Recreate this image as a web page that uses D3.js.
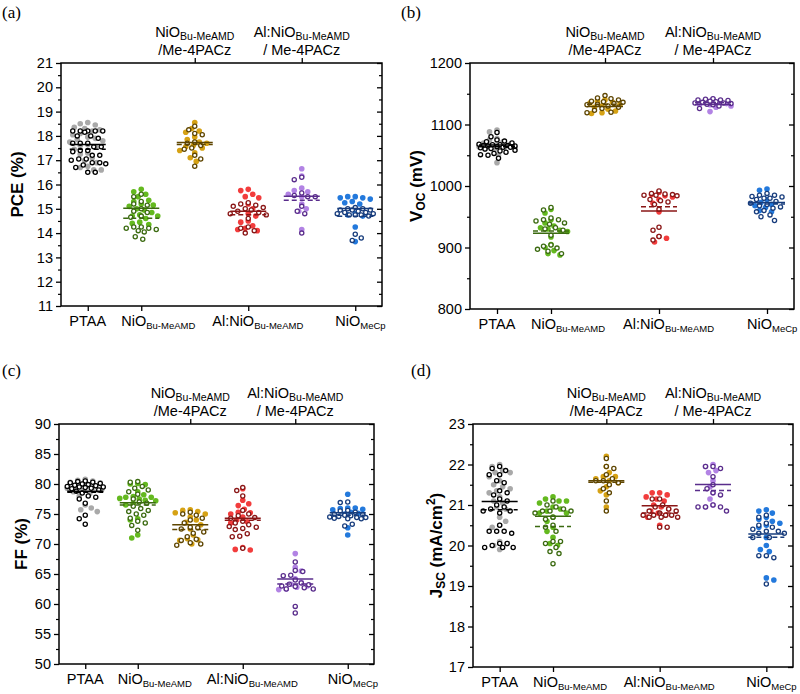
<!DOCTYPE html>
<html>
<head>
<meta charset="utf-8">
<script src="https://cdn.jsdelivr.net/npm/d3@7/dist/d3.min.js"></script>
<style>
  body { margin: 0; background: #fff; }
  text { font-family: "Liberation Sans", Arial, sans-serif; fill: #000; }
  .panel-label { font-family: "Liberation Serif", "Times New Roman", serif; font-size: 17px; }
</style>
</head>
<body>
<div id="chart"></div>
<script>
// Categories (x positions 1..6)
var categories = ["PTAA", "NiO Bu-MeAMD", "NiO Bu-MeAMD /Me-4PACz", "Al:NiO Bu-MeAMD", "Al:NiO Bu-MeAMD / Me-4PACz", "NiO MeCp"];

// PCE (%)
var pceFilled = [
  [18.55,18.5,18.45,18.35,18.3,18.25,18.2,18.1,18.05,17.95,17.9,17.85,17.8,17.75,17.65,17.6,17.55,17.45,17.3,17.25,17.1,17.0,16.9,16.75,16.7,16.6,16.6],
  [15.8,15.7,15.6,15.5,15.35,15.3,15.2,15.15,15.1,15.0,14.95,14.85,14.75,14.7,14.7,14.6,14.45,14.4,14.35],
  [18.55,18.3,18.2,18.15,17.95,17.85,17.75,17.7,17.6,17.55,17.5,17.4,17.3,17.1,16.95],
  [15.8,15.75,15.6,15.5,15.45,15.2,15.0,14.8,14.7,14.5,14.45,14.3,14.2,14.15,14.1],
  [16.65,16.35,15.85,15.75,15.7,15.6,15.5,15.2,15.0,14.9,14.15],
  [15.5,15.5,15.45,15.45,15.4,15.3,15.25,15.2,14.8,14.75,14.7,14.25,13.65]
];
var pceOpen = [
  [18.2,18.2,18.2,18.2,18.2,18.15,18.0,18.0,17.9,17.7,17.7,17.7,17.55,17.55,17.4,17.4,17.35,17.2,17.2,17.05,17.05,17.0,16.9,16.9,16.85,16.8,16.7,16.5,16.5],
  [15.6,15.5,15.3,15.2,15.15,15.0,14.9,14.85,14.7,14.65,14.25,14.25,14.2,14.2,14.15,14.1,14.05,13.85,13.75],
  [18.4,18.25,18.1,18.05,17.75,17.7,17.6,17.5,17.45,17.2,17.05,16.75],
  [15.25,15.2,15.15,15.1,15.05,15.0,14.95,14.9,14.85,14.8,14.75,14.6,14.25,14.2,14.1,14.0],
  [16.3,16.2,15.65,15.55,15.5,15.5,15.1,14.9,14.8,14.0],
  [15.05,15.0,15.0,14.95,14.95,14.95,14.9,14.85,14.85,14.8,14.8,14.75,14.75,14.75,14.7,13.95,13.8,13.7]
];

// Voc (mV)
var vocFilled = [
  [1091,1088,1077,1075,1072,1070,1068,1066,1065,1064,1063,1062,1060,1058,1050,1038],
  [962,956,945,940,935,932,930,928,926,917,905,900,895,890,888],
  [1140,1138,1136,1135,1133,1130,1128,1125,1122,1119,1118],
  [990,986,984,982,978,972,958,918,915,909],
  [1141,1138,1136,1134,1133,1132,1130,1128,1121],
  [995,993,978,973,970,968,965,960,958]
];
var vocOpen = [
  [1087,1080,1075,1073,1072,1070,1068,1067,1067,1066,1066,1065,1065,1064,1063,1063,1062,1061,1060,1058,1057,1055,1053,1051,1050,1045],
  [965,961,948,945,945,943,940,938,932,930,928,920,904,902,899,897,894,890],
  [1147,1143,1142,1140,1138,1137,1136,1134,1133,1132,1130,1128,1126,1123,1120,1119],
  [992,988,987,986,985,985,984,978,976,974,970,962,933,928,918,912],
  [1142,1141,1140,1140,1139,1138,1137,1136,1135,1135,1134,1133,1132,1130,1126],
  [988,985,985,983,982,980,980,978,975,972,970,968,966,964,960,958,953,950,944]
];

// FF (%)
var ffFilled = [
  [80.8,80.6,80.5,80.3,80.2,80.0,79.8,79.6,79.5,79.3,79.1,78.9,78.7,78.4,78.0,76.5,76.0,75.7,75.4],
  [80.1,80.0,79.9,78.7,78.2,77.9,77.8,77.8,77.6,77.5,77.3,77.2,76.8,76.5,74.2,74.0,71.5,71.0],
  [75.7,75.6,75.4,75.2,75.0,74.5,74.0,73.6,73.2,72.5,71.5,70.9,70.7,70.6,70.0],
  [79.2,77.3,76.7,76.4,75.8,75.3,75.2,75.0,74.5,74.0,73.7,73.5,69.4,69.1,69.0],
  [68.4,66.1,65.5,64.2,63.6,63.3,63.0,62.8,62.5,62.4],
  [78.3,76.0,76.0,75.9,75.8,75.7,75.3,75.1,75.0,72.7,71.5]
];
var ffOpen = [
  [80.5,80.4,80.3,80.2,80.1,80.0,79.9,79.8,79.7,79.6,79.5,79.5,79.4,79.3,79.2,79.0,78.8,78.5,78.0,77.8,77.5,76.8,74.8,74.2,73.3],
  [80.4,80.3,79.6,79.3,79.0,78.7,78.3,77.5,77.0,76.8,76.3,75.9,75.6,75.4,75.0,74.8,74.3,73.8,73.5,73.1,72.3],
  [75.3,75.0,74.8,74.3,74.0,73.5,72.8,72.7,72.5,72.0,71.8,71.2,70.8,70.6,70.2,70.0,69.8],
  [79.4,78.9,78.0,75.6,75.0,74.7,74.4,74.3,73.8,73.5,73.2,72.9,72.8,72.6,72.4,71.7,71.3,71.2,69.3],
  [67.0,65.6,65.4,64.8,64.7,64.0,63.5,63.3,63.2,63.0,62.9,62.7,62.5,62.5,59.6,58.5],
  [77.0,76.9,75.6,75.5,75.3,75.0,74.9,74.8,74.7,74.6,74.5,74.4,74.4,74.3,74.2,74.2,73.3,73.0]
];

// Jsc (mA/cm2)
var jscFilled = [
  [22.0,21.95,21.85,21.8,21.8,21.7,21.6,21.5,21.45,21.4,21.35,21.3,21.2,21.1,21.05,20.95,20.9,20.7,20.6,20.5,20.45,20.1,20.05,20.0,19.9],
  [21.2,21.15,21.1,21.1,21.05,20.95,20.9,20.85,20.8,20.8,20.7,20.6,20.45,20.35,20.2,20.05,20.0],
  [22.2,21.95,21.8,21.7,21.7,21.65,21.6,21.55,21.45,21.35,21.25,20.95],
  [21.3,21.3,21.25,21.2,21.15,21.1,21.0,20.95,20.9,20.85,20.8,20.75,20.7,20.5],
  [22.0,21.95,21.85,21.8,21.6,21.45,21.3,21.15,21.0,20.95],
  [20.88,20.85,20.8,20.7,20.65,20.6,20.55,20.5,20.45,20.2,20.0,19.9,19.85,19.2,19.15]
];
var jscOpen = [
  [21.95,21.9,21.85,21.75,21.75,21.6,21.55,21.35,21.3,21.25,21.15,21.1,21.0,20.95,20.9,20.85,20.85,20.8,20.5,20.35,20.35,20.35,20.3,20.05,20.05,20.0,19.95,19.95,19.95],
  [21.1,21.0,20.95,20.9,20.85,20.85,20.85,20.8,20.7,20.65,20.5,20.45,20.35,20.1,20.1,20.05,19.95,19.85,19.8,19.55],
  [22.15,21.95,21.9,21.75,21.65,21.6,21.6,21.55,21.5,21.4,21.3,21.1,20.85],
  [21.15,21.15,21.0,20.95,20.9,20.85,20.85,20.8,20.75,20.75,20.75,20.75,20.7,20.7,20.7,20.45,20.45],
  [21.95,21.95,21.9,21.7,21.5,21.4,21.3,21.25,21.0,20.95,20.95,20.95,20.85],
  [20.75,20.7,20.55,20.5,20.45,20.4,20.35,20.35,20.3,20.3,20.2,20.2,19.75,19.75,19.7,19.05]
];

// Axis domains / tick steps
var pceDomain = [11, 21], pceStep = 1;
var vocDomain = [800, 1200], vocStep = 100;
var ffDomain = [50, 90], ffStep = 5;
var jscDomain = [17, 23], jscStep = 1;

// Colours
var fillColors = ["#a9a9a9", "#64b91f", "#d6a214", "#f23c3c", "#b283e4", "#2379dc"];
var darkColors = ["#000000", "#3b6a10", "#5e4500", "#8a1616", "#5a2d8c", "#173c7c"];

var width = 800, height = 694;
var svg = d3.select("#chart").append("svg")
  .attr("width", width).attr("height", height);

var panels = [
  {id: "(a)", lx: 2, ly: 18, left: 61, right: 382, top: 63, bottom: 306, domain: pceDomain, step: pceStep,
   filled: pceFilled, open: pceOpen, title: [["PCE (%)", ""]], tx: 17},
  {id: "(b)", lx: 401, ly: 18, left: 470, right: 794, top: 63, bottom: 309, domain: vocDomain, step: vocStep,
   filled: vocFilled, open: vocOpen, title: [["V", ""], ["OC", "sub"], [" (mV)", ""]], tx: 416},
  {id: "(c)", lx: 2, ly: 376, left: 59, right: 374, top: 424, bottom: 664, domain: ffDomain, step: ffStep,
   filled: ffFilled, open: ffOpen, title: [["FF (%)", ""]], tx: 21},
  {id: "(d)", lx: 411, ly: 376, left: 473, right: 793, top: 424, bottom: 667, domain: jscDomain, step: jscStep,
   filled: jscFilled, open: jscOpen, title: [["J", ""], ["SC", "sub"], [" (mA/cm", ""], ["2", "sup"], [")", ""]], tx: 436}
];

// Beeswarm with a capped half-width: returns x offsets (px)
function swarm(values, y, dist, maxOff) {
  var pts = values.map(function(v, i){ return {i: i, y: y(v), x: 0}; });
  var order = pts.slice().sort(function(a, b){ return a.y - b.y; });
  var placed = [];
  var flip = 1;
  var step = 1.5;
  order.forEach(function(p){
    var best = 0, bestGap = -1;
    var n = Math.floor(maxOff / step);
    for (var k = 0; k <= 2 * n; k++) {
      var off = (k === 0) ? 0 : flip * (k % 2 ? 1 : -1) * Math.ceil(k / 2) * step;
      var gap = Infinity;
      placed.forEach(function(q){
        var dx = q.x - off, dy = q.y - p.y;
        gap = Math.min(gap, Math.sqrt(dx * dx + dy * dy));
      });
      if (gap >= dist) { best = off; bestGap = gap; break; }
      if (gap > bestGap) { bestGap = gap; best = off; }
    }
    p.x = best;
    flip = -flip;
    placed.push(p);
  });
  return pts.map(function(p){ return p.x; });
}

function richText(g, parts, size, subSize) {
  parts.forEach(function(p){
    var t = g.append("tspan").text(p[0]);
    if (p[1] === "sub") t.attr("font-size", subSize).attr("baseline-shift", "-28%");
    if (p[1] === "sup") t.attr("font-size", subSize).attr("baseline-shift", "super");
    if (p[1] === "") t.attr("font-size", size);
  });
}

var bottomLabels = [
  {c: 1, anchor: "middle", dx: 0, parts: [["PTAA", ""]]},
  {c: 2, anchor: "start", dx: -20, parts: [["NiO", ""], ["Bu-MeAMD", "sub"]]},
  {c: 4, anchor: "start", dx: -36, parts: [["Al:NiO", ""], ["Bu-MeAMD", "sub"]]},
  {c: 6, anchor: "start", dx: -20, parts: [["NiO", ""], ["MeCp", "sub"]]}
];
var topLabels = [
  {c: 3, l1: [["NiO", ""], ["Bu-MeAMD", "sub"]], l2: "/Me-4PACz"},
  {c: 5, l1: [["Al:NiO", ""], ["Bu-MeAMD", "sub"]], l2: "/ Me-4PACz"}
];

panels.forEach(function(P){
  var g = svg.append("g");
  var x = d3.scaleLinear().domain([0.5, 6.5]).range([P.left, P.right]);
  var y = d3.scaleLinear().domain(P.domain).range([P.bottom, P.top]);
  var majors = d3.range(P.domain[0], P.domain[1] + P.step / 2, P.step);
  var minors = d3.range(P.domain[0] + P.step / 2, P.domain[1], P.step);

  // panel label
  g.append("text").attr("class", "panel-label").attr("x", P.lx).attr("y", P.ly).text(P.id);

  // left axis
  var yAxis = d3.axisLeft(y).tickValues(majors).tickSize(5).tickPadding(3).tickFormat(d3.format("d"));
  var ga = g.append("g").attr("transform", "translate(" + P.left + ",0)").call(yAxis);
  ga.select(".domain").remove();
  ga.selectAll("text").attr("font-size", 14.5);
  ga.selectAll("line").attr("stroke-width", 1.3);
  g.append("g").attr("transform", "translate(" + P.left + ",0)")
    .call(d3.axisLeft(y).tickValues(minors).tickSize(3).tickFormat(""))
    .call(function(s){ s.select(".domain").remove(); s.selectAll("line").attr("stroke-width", 1.2); });

  // right axis (inward ticks)
  g.append("g").attr("transform", "translate(" + P.right + ",0)")
    .call(d3.axisLeft(y).tickValues(majors).tickSize(5).tickFormat(""))
    .call(function(s){ s.select(".domain").remove(); s.selectAll("line").attr("stroke-width", 1.3); });
  g.append("g").attr("transform", "translate(" + P.right + ",0)")
    .call(d3.axisLeft(y).tickValues(minors).tickSize(3).tickFormat(""))
    .call(function(s){ s.select(".domain").remove(); s.selectAll("line").attr("stroke-width", 1.2); });

  // bottom ticks
  g.append("g").attr("transform", "translate(0," + P.bottom + ")")
    .call(d3.axisBottom(x).tickValues(bottomLabels.map(function(d){ return d.c; })).tickSize(5).tickFormat(""))
    .call(function(s){ s.select(".domain").remove(); s.selectAll("line").attr("stroke-width", 1.3); });
  // top ticks
  g.append("g").attr("transform", "translate(0," + P.top + ")")
    .call(d3.axisTop(x).tickValues(topLabels.map(function(d){ return d.c; })).tickSize(5).tickFormat(""))
    .call(function(s){ s.select(".domain").remove(); s.selectAll("line").attr("stroke-width", 1.3); });

  // frame
  g.append("rect").attr("x", P.left).attr("y", P.top)
    .attr("width", P.right - P.left).attr("height", P.bottom - P.top)
    .attr("fill", "none").attr("stroke", "#000").attr("stroke-width", 1.5);

  // bottom labels
  bottomLabels.forEach(function(b){
    var t = g.append("text").attr("x", x(b.c) + b.dx).attr("y", P.bottom + 20)
      .attr("text-anchor", b.anchor);
    richText(t, b.parts, 14.5, 9.5);
  });
  // top labels
  topLabels.forEach(function(b){
    var t1 = g.append("text").attr("x", x(b.c)).attr("y", P.top - 26).attr("text-anchor", "middle");
    richText(t1, b.l1, 14.5, 10.5);
    g.append("text").attr("x", x(b.c)).attr("y", P.top - 8).attr("text-anchor", "middle")
      .attr("font-size", 14.5).text(b.l2);
  });

  // y title
  var tt = g.append("text")
    .attr("transform", "translate(" + P.tx + "," + ((P.top + P.bottom) / 2) + ") rotate(-90)")
    .attr("text-anchor", "middle").attr("font-weight", "bold").attr("dy", "0.35em");
  richText(tt, P.title, 17, 12);

  // points
  categories.forEach(function(cat, ci){
    var cx = x(ci + 1);
    var fv = P.filled[ci], ov = P.open[ci];
    var fx = swarm(fv, y, 6.5, 19), ox = swarm(ov, y, 6.5, 19);

    g.append("g").selectAll("circle")
      .data(fv).enter().append("circle")
      .attr("cx", function(d, i){ return cx + fx[i]; })
      .attr("cy", function(d){ return y(d); })
      .attr("r", 2.8)
      .attr("fill", fillColors[ci]);

    g.append("g").selectAll("circle")
      .data(ov).enter().append("circle")
      .attr("cx", function(d, i){ return cx + ox[i]; })
      .attr("cy", function(d){ return y(d); })
      .attr("r", 2.1)
      .attr("fill", "#fff")
      .attr("stroke", darkColors[ci])
      .attr("stroke-width", 1.3);

    // mean lines: solid = filled, dashed = open
    var half = 18;
    g.append("line")
      .attr("x1", cx - half).attr("x2", cx + half)
      .attr("y1", y(d3.mean(fv))).attr("y2", y(d3.mean(fv)))
      .attr("stroke", darkColors[ci]).attr("stroke-width", 1.5);
    g.append("line")
      .attr("x1", cx - half).attr("x2", cx + half)
      .attr("y1", y(d3.mean(ov))).attr("y2", y(d3.mean(ov)))
      .attr("stroke", darkColors[ci]).attr("stroke-width", 1.5)
      .attr("stroke-dasharray", "5,3");
  });
});
</script>
</body>
</html>
